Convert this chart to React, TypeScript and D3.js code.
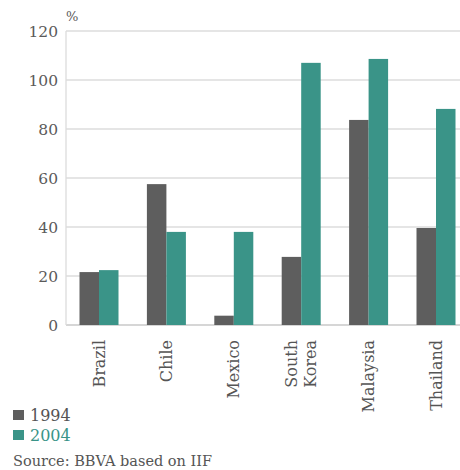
import React, { useEffect, useRef } from 'react';
import * as d3 from 'd3';

const categories = ['Brazil', 'Chile', 'Mexico', 'South Korea', 'Malaysia', 'Thailand'];
const series = ['1994', '2004'];
const values1994 = [21.6, 57.5, 3.8, 27.8, 83.7, 39.6];
const values2004 = [22.4, 38, 38, 107, 108.6, 88.2];
const yTicks = [0, 20, 40, 60, 80, 100, 120];

const colors = ['#5e5e5e', '#3a9488'];
const FONT = '"DejaVu Serif", serif';

const App = () => {
  const svgRef = useRef<SVGSVGElement>(null);

  useEffect(() => {
    const svg = d3.select(svgRef.current);
    svg.selectAll('*').remove();

    const width = 460;
    const height = 470;
    const left = 66;
    const top = 31;
    const bottom = 325;

    const x = d3.scaleBand<string>().domain(categories).range([left - 0.7, left - 0.7 + 67.4 * 6]);
    const xInner = d3.scaleBand<string>().domain(series).range([0, 39]);
    const y = d3.scaleLinear().domain([0, 120]).range([bottom, top]);

    svg.attr('width', width).attr('height', height);

    // gridlines
    svg.append('g')
      .selectAll('line')
      .data(yTicks)
      .join('line')
      .attr('x1', left)
      .attr('x2', width)
      .attr('y1', d => y(d))
      .attr('y2', d => y(d))
      .attr('stroke', d => (d === 0 ? '#d6d6d6' : '#dcdcdc'))
      .attr('stroke-width', d => (d === 0 ? 2 : 1.3));

    svg.append('line')
      .attr('x1', left).attr('x2', left)
      .attr('y1', top).attr('y2', bottom)
      .attr('stroke', '#dcdcdc').attr('stroke-width', 1.3);

    // y labels
    svg.append('g')
      .selectAll('text')
      .data(yTicks)
      .join('text')
      .attr('x', 58)
      .attr('y', d => y(d) + 5.5)
      .attr('text-anchor', 'end')
      .attr('fill', '#5a5a5a')
      .style('font', `15.5px ${FONT}`)
      .text(d => d);

    svg.append('text')
      .attr('x', 66).attr('y', 21)
      .attr('fill', '#5a5a5a')
      .style('font', `13px ${FONT}`)
      .text('%');

    // bars
    const data = [values1994, values2004];
    const groups = svg.append('g')
      .selectAll('g')
      .data(categories)
      .join('g')
      .attr('transform', c => `translate(${x(c)! + (x.bandwidth() - 39) / 2},0)`);

    groups.selectAll('rect')
      .data(c => series.map((s, j) => ({ s, v: data[j][categories.indexOf(c)], j })))
      .join('rect')
      .attr('x', d => xInner(d.s)!)
      .attr('width', xInner.bandwidth())
      .attr('y', d => y(d.v))
      .attr('height', d => y(0) - y(d.v))
      .attr('fill', d => colors[d.j]);

    // category labels
    const labels = svg.append('g')
      .selectAll('text')
      .data(categories)
      .join('text')
      .attr('transform', c => `translate(${x(c)! + x.bandwidth() / 2},340) rotate(-90)`)
      .attr('text-anchor', 'end')
      .attr('fill', '#555')
      .style('font', `16px ${FONT}`);

    labels.each(function (c) {
      const words = c.split(' ');
      const t = d3.select(this);
      words.forEach((w, i) => {
        t.append('tspan')
          .attr('x', 0)
          .attr('y', (i - (words.length - 1) / 2) * 19.5 + 5.5)
          .text(w);
      });
    });

    // legend
    const legend = svg.append('g')
      .selectAll('g')
      .data(series)
      .join('g')
      .attr('transform', (d, i) => `translate(13,${410 + i * 20})`);
    legend.append('rect')
      .attr('width', 11).attr('height', 10)
      .attr('fill', (d, i) => colors[i]);
    legend.append('text')
      .attr('x', 17).attr('y', 11)
      .attr('fill', (d, i) => (i === 0 ? '#555' : colors[1]))
      .style('font', `16px ${FONT}`)
      .text(d => d);

    svg.append('text')
      .attr('x', 13).attr('y', 466)
      .attr('fill', '#555')
      .style('font', `14.5px ${FONT}`)
      .text('Source: BBVA based on IIF');
  }, []);

  return (
    <svg ref={svgRef} style={{ position: 'absolute', left: 0, top: 0, background: '#fff' }} />
  );
};

export default App;
